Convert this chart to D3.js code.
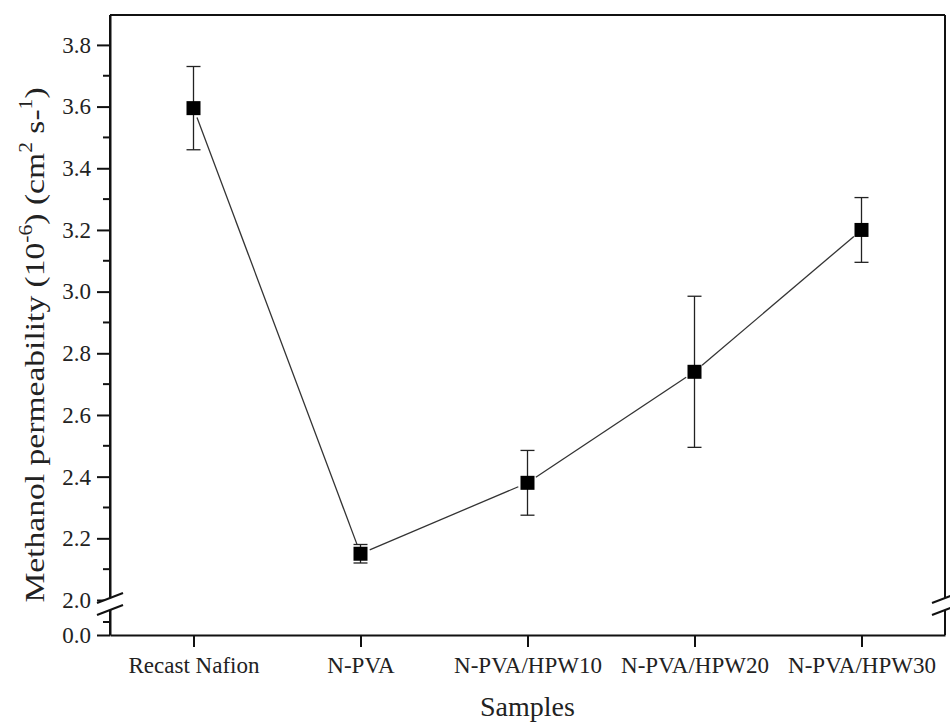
<!DOCTYPE html>
<html>
<head>
<meta charset="utf-8">
<script src="https://cdn.jsdelivr.net/npm/d3@7"></script>
<style>
  body { margin: 0; background: #fff; }
  svg text { font-family: "Liberation Serif", "Times New Roman", serif; fill: #222; }
</style>
</head>
<body>
<div id="chart"></div>
<script>
// data
const samples = ["Recast Nafion", "N-PVA", "N-PVA/HPW10", "N-PVA/HPW20", "N-PVA/HPW30"];
const permeability = [3.595, 2.15, 2.38, 2.74, 3.20];
const errHigh = [3.73, 2.18, 2.485, 2.985, 3.305];
const errLow = [3.46, 2.12, 2.275, 2.495, 3.095];
const upperTicks = [2.0, 2.2, 2.4, 2.6, 2.8, 3.0, 3.2, 3.4, 3.6, 3.8];
const lowerTicks = [0.0];

const width = 950, height = 725;
const margin = { top: 15, right: 5, bottom: 90, left: 110 };
const plotRight = width - margin.right;
const plotBottom = height - margin.bottom;
const serif = "Liberation Serif";

const svg = d3.select("#chart")
    .append("svg")
    .attr("width", width)
    .attr("height", height);

// x scale (categories)
const x = d3.scalePoint()
    .domain(samples)
    .range([margin.left, plotRight])
    .padding(0.5);

// y scales, broken axis: upper part 2.0 - 3.9, lower part 0 - 1
const y = d3.scaleLinear()
    .domain([2.0, 3.897])
    .range([600, margin.top]);
const yLow = d3.scaleLinear()
    .domain([0, 1])
    .range([plotBottom, 609]);

function styleAxis(g) {
    g.attr("font-family", serif).attr("font-size", 23);
    g.select(".domain").attr("stroke", "#111").attr("stroke-width", 2);
    g.selectAll(".tick line").attr("stroke", "#111").attr("stroke-width", 2);
    g.selectAll("text")
        .style("font-family", serif)
        .style("font-size", "23px")
        .attr("fill", "#222");
}

// top border
svg.append("line")
    .attr("x1", margin.left).attr("x2", plotRight)
    .attr("y1", margin.top).attr("y2", margin.top)
    .attr("stroke", "#111").attr("stroke-width", 2);

// bottom axis
svg.append("g")
    .attr("transform", `translate(0,${plotBottom})`)
    .call(d3.axisBottom(x).tickSize(12).tickSizeOuter(0).tickPadding(10))
    .call(styleAxis);

// left axis, upper part
const yAxisUp = svg.append("g")
    .attr("transform", `translate(${margin.left},0)`)
    .call(d3.axisLeft(y).tickValues(upperTicks).tickFormat(d3.format(".1f")).tickSize(13).tickSizeOuter(0).tickPadding(6))
    .call(styleAxis);

// minor ticks upper
yAxisUp.selectAll(".minor")
    .data(d3.range(2.1, 3.8, 0.2))
    .enter()
    .append("line")
    .attr("class", "minor")
    .attr("x1", -7).attr("x2", 0)
    .attr("y1", d => y(d)).attr("y2", d => y(d))
    .attr("stroke", "#111").attr("stroke-width", 2);

// left axis, lower part
const yAxisLow = svg.append("g")
    .attr("transform", `translate(${margin.left},0)`)
    .call(d3.axisLeft(yLow).tickValues(lowerTicks).tickFormat(d3.format(".1f")).tickSize(13).tickSizeOuter(0).tickPadding(6))
    .call(styleAxis);

yAxisLow.append("line")
    .attr("x1", -7).attr("x2", 0)
    .attr("y1", yLow(0.5)).attr("y2", yLow(0.5))
    .attr("stroke", "#111").attr("stroke-width", 2);

// continuous left axis line through the break
svg.append("line")
    .attr("x1", margin.left).attr("x2", margin.left)
    .attr("y1", margin.top).attr("y2", plotBottom)
    .attr("stroke", "#111").attr("stroke-width", 2);

// right axis line
svg.append("line")
    .attr("x1", plotRight).attr("x2", plotRight)
    .attr("y1", margin.top).attr("y2", plotBottom)
    .attr("stroke", "#111").attr("stroke-width", 2);

// break marks
function drawBreak(cx) {
    const g = svg.append("g").attr("transform", `translate(${cx},0)`);
    g.append("polygon")
        .attr("points", "-13,603 13,593 13,605 -13,615")
        .attr("fill", "#fff");
    g.append("line").attr("x1", -13).attr("y1", 603).attr("x2", 13).attr("y2", 593)
        .attr("stroke", "#111").attr("stroke-width", 2);
    g.append("line").attr("x1", -13).attr("y1", 615).attr("x2", 13).attr("y2", 605)
        .attr("stroke", "#111").attr("stroke-width", 2);
}
drawBreak(margin.left);
drawBreak(plotRight);

// connecting line segments with small gaps at the markers
const pts = samples.map((s, i) => [x(s), y(permeability[i])]);
const gap = 10;
for (let i = 0; i < pts.length - 1; i++) {
    const [x1, y1] = pts[i], [x2, y2] = pts[i + 1];
    const len = Math.hypot(x2 - x1, y2 - y1);
    const ux = (x2 - x1) / len, uy = (y2 - y1) / len;
    svg.append("line")
        .attr("x1", x1 + ux * gap).attr("y1", y1 + uy * gap)
        .attr("x2", x2 - ux * gap).attr("y2", y2 - uy * gap)
        .attr("stroke", "#333").attr("stroke-width", 1.3);
}

// error bars
const capW = 7;
const eb = svg.append("g").attr("stroke", "#222").attr("stroke-width", 1.3);
samples.forEach((s, i) => {
    eb.append("line")
        .attr("x1", x(s)).attr("x2", x(s))
        .attr("y1", y(errHigh[i])).attr("y2", y(errLow[i]));
    eb.append("line")
        .attr("x1", x(s) - capW).attr("x2", x(s) + capW)
        .attr("y1", y(errHigh[i])).attr("y2", y(errHigh[i]));
    eb.append("line")
        .attr("x1", x(s) - capW).attr("x2", x(s) + capW)
        .attr("y1", y(errLow[i])).attr("y2", y(errLow[i]));
});

// square markers
const ms = 14;
svg.selectAll("rect.pt")
    .data(samples)
    .enter()
    .append("rect")
    .attr("class", "pt")
    .attr("x", d => x(d) - ms / 2)
    .attr("y", (d, i) => y(permeability[i]) - ms / 2)
    .attr("width", ms)
    .attr("height", ms)
    .attr("fill", "#000");

// x title
svg.append("text")
    .attr("x", (margin.left + plotRight) / 2)
    .attr("y", 716)
    .attr("text-anchor", "middle")
    .style("font-size", "28px")
    .text("Samples");

// y title (stretched along its length like the original)
const yt = svg.append("text")
    .attr("transform", `translate(44,345) rotate(-90) scale(1.2,1)`)
    .attr("text-anchor", "middle")
    .style("font-size", "28px");
yt.append("tspan").text("Methanol permeability (10");
yt.append("tspan").attr("dy", -12).style("font-size", "18px").text("-6");
yt.append("tspan").attr("dy", 12).text(") (cm");
yt.append("tspan").attr("dy", -12).style("font-size", "18px").text("2");
yt.append("tspan").attr("dy", 12).text(" s-");
yt.append("tspan").attr("dy", -12).style("font-size", "18px").text("1");
yt.append("tspan").attr("dy", 12).text(")");
</script>
</body>
</html>
